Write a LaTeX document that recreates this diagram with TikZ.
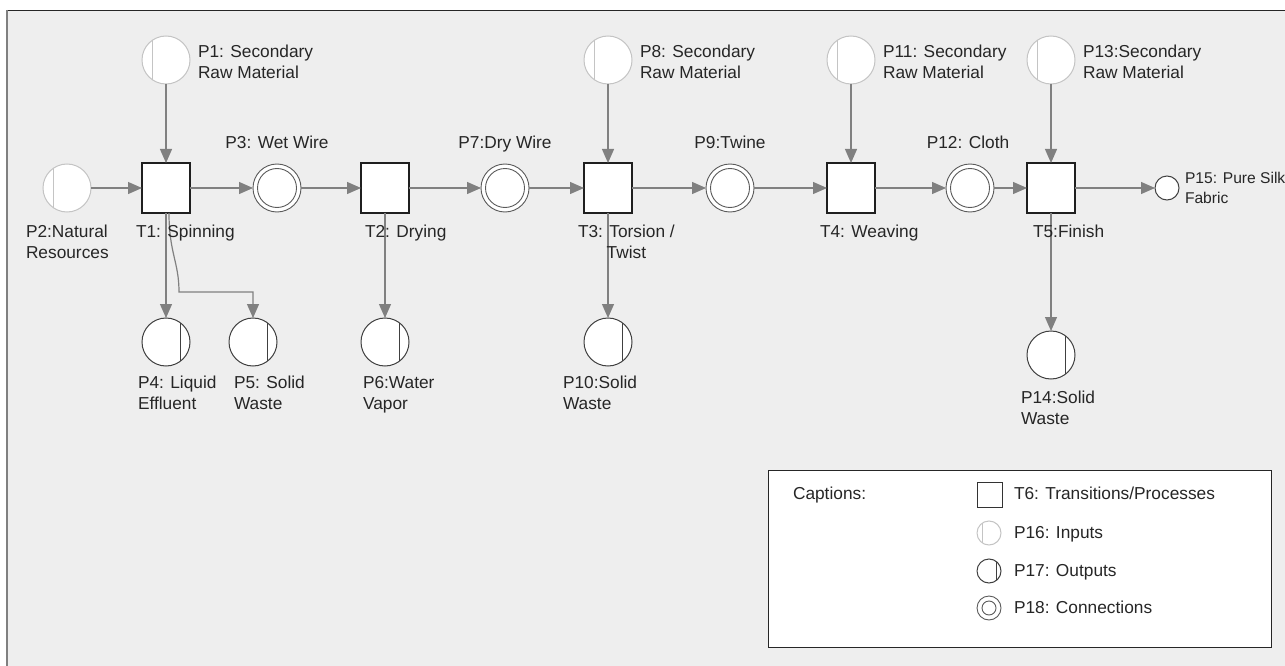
\documentclass[tikz,border=0pt]{standalone}
\usepackage{fontspec}
\setmainfont{Liberation Sans}
\usetikzlibrary{arrows.meta,calc}
\definecolor{bgc}{HTML}{EEEEEE}
\definecolor{arcc}{HTML}{808080}
\definecolor{inc}{HTML}{C4C4C4}
\definecolor{outc}{HTML}{404040}
\definecolor{conc}{HTML}{5A5A5A}
\definecolor{txtc}{HTML}{262626}
\begin{document}
\begin{tikzpicture}[x=1pt,y=-1pt,
  trans/.style={rectangle,draw=black!88,fill=white,line width=1.2pt,minimum width=48pt,minimum height=50pt,inner sep=0pt,outer sep=0pt},
  legtrans/.style={rectangle,draw=black!80,fill=white,line width=1pt,minimum size=25pt,inner sep=0pt,outer sep=0pt},
  inplace/.style={circle,draw=inc,fill=white,line width=1pt,minimum size={2*#1*1pt},inner sep=0pt,outer sep=0pt,
    path picture={\draw[inc,line width=1pt] ($(path picture bounding box.center)+(-0.58*#1,-#1)$) -- ++(0,2*#1);}},
  outplace/.style={circle,draw=outc,fill=white,line width=1pt,minimum size={2*#1*1pt},inner sep=0pt,outer sep=0pt,
    path picture={\draw[outc,line width=1.1pt] ($(path picture bounding box.center)+(0.62*#1,-#1)$) -- ++(0,2*#1);}},
  conplace/.style 2 args={circle,draw=conc,fill=white,line width=0.9pt,minimum size={2*#1*1pt},inner sep=0pt,outer sep=0pt,
    path picture={\draw[conc,line width=0.9pt] (path picture bounding box.center) circle[radius=#2*1pt];}},
  endplace/.style={circle,draw=outc,fill=white,line width=1pt,minimum size=24pt,inner sep=0pt,outer sep=0pt},
  arc/.style={draw=arcc,line width=1.2pt,-{Triangle[length=14pt,width=12pt]}},
  lbl/.style={text=txtc,font=\fontsize{17.3}{21}\selectfont,inner sep=0pt,outer sep=0pt,align=left},
  lblc/.style={text=txtc,font=\fontsize{17.3}{21}\selectfont,inner sep=0pt,outer sep=0pt,align=center}
]
\useasboundingbox (0,0) rectangle (1285,666);
\fill[white] (0,0) rectangle (1285,666);
\fill[bgc] (6,10) rectangle (1285,666);
\draw[black!85,line width=1.3pt] (6,10.6) -- (1285,10.6);
\draw[gray,line width=1.6pt] (6.8,10) -- (6.8,666);

% transitions
\node[trans] (T1) at (166,188) {};
\node[trans] (T2) at (385,188) {};
\node[trans] (T3) at (608,188) {};
\node[trans] (T4) at (851,188) {};
\node[trans] (T5) at (1051,188) {};

% input places
\node[inplace=24] (P1) at (166,60) {};
\node[inplace=24] (P2) at (67,188) {};
\node[inplace=24] (P8) at (608,60) {};
\node[inplace=24] (P11) at (851,60) {};
\node[inplace=24] (P13) at (1051,60) {};

% connection places
\node[conplace={24}{19.5}] (P3) at (277,188) {};
\node[conplace={24}{19.5}] (P7) at (505,188) {};
\node[conplace={24}{19.5}] (P9) at (730,188) {};
\node[conplace={24}{19.5}] (P12) at (970,188) {};
\node[endplace] (P15) at (1167,188) {};

% output places
\node[outplace=24] (P4) at (166,342) {};
\node[outplace=24] (P5) at (253,342) {};
\node[outplace=24] (P6) at (385,342) {};
\node[outplace=24] (P10) at (608,342) {};
\node[outplace=24] (P14) at (1051,355) {};

% arcs
\draw[arc] (P1) -- (T1);
\draw[arc] (P2) -- (T1);
\draw[arc] (T1) -- (P3);
\draw[arc] (P3) -- (T2);
\draw[arc] (T2) -- (P7);
\draw[arc] (P7) -- (T3);
\draw[arc] (T3) -- (P9);
\draw[arc] (P9) -- (T4);
\draw[arc] (T4) -- (P12);
\draw[arc] (P12) -- (T5);
\draw[arc] (T5) -- (P15);
\draw[arc] (P8) -- (T3);
\draw[arc] (P11) -- (T4);
\draw[arc] (P13) -- (T5);
\draw[arc] (T1) -- (P4);
\coordinate (b5) at (179,292);
\draw[arc] ([xshift=3pt]T1.south) .. controls +(0,40) and +(0,-30) .. (b5) -| (P5.north);
\draw[arc] (T2) -- (P6);
\draw[arc] (T3) -- (P10);
\draw[arc] (T5) -- (P14);

% labels
\node[lbl,anchor=west] (l1) at (198,62) {P1: Secondary\\Raw Material};
\node[lbl,anchor=west] (l8) at (640,62) {P8: Secondary\\Raw Material};
\node[lbl,anchor=west] (l11) at (883,62) {P11: Secondary\\Raw Material};
\node[lbl,anchor=west] (l13) at (1083,62) {P13:Secondary\\Raw Material};
\node[lbl,anchor=west,font=\fontsize{15.6}{20}\selectfont] (l15) at (1185,188) {P15: Pure Silk\\Fabric};
\node[lblc,anchor=base] (l3) at (277,149) {P3: Wet Wire};
\node[lblc,anchor=base] (l7) at (505,149) {P7:Dry Wire};
\node[lblc,anchor=base] (l9) at (730,149) {P9:Twine};
\node[lblc,anchor=base] (l12) at (968,149) {P12: Cloth};
\node[lbl,anchor=base west] (l2) at (26,258) {P2:Natural\\Resources};
\node[lbl,anchor=base west] (lt1) at (136,237) {T1: Spinning};
\node[lbl,anchor=base west] (lt2) at (365,237) {T2: Drying};
\node[lblc,anchor=base west] (lt3) at (578,258) {T3: Torsion /\\Twist};
\node[lbl,anchor=base west] (lt4) at (820,237) {T4: Weaving};
\node[lbl,anchor=base west] (lt5) at (1033,237) {T5:Finish};
\node[lbl,anchor=base west] (l4) at (138,409) {P4: Liquid\\Effluent};
\node[lbl,anchor=base west] (l5) at (234,409) {P5: Solid\\Waste};
\node[lbl,anchor=base west] (l6) at (363,409) {P6:Water\\Vapor};
\node[lbl,anchor=base west] (l10) at (563,409) {P10:Solid\\Waste};
\node[lbl,anchor=base west] (l14) at (1021,424) {P14:Solid\\Waste};

% legend
\node[draw=black!85,fill=white,line width=1.2pt,minimum width=503pt,minimum height=177pt,inner sep=0pt,anchor=north west] (leg) at (768,469.5) {};
\node[lbl,anchor=base west] (cap) at (793,499) {Captions:};
\node[legtrans] (T6) at (989.5,494.5) {};
\node[inplace=12] (P16) at (989,533) {};
\node[outplace=12] (P17) at (989,571) {};
\node[conplace={12}{7}] (P18) at (989,608) {};
\node[lbl,anchor=base west] (lt6) at (1014,499) {T6: Transitions/Processes};
\node[lbl,anchor=base west] (l16) at (1014,538) {P16: Inputs};
\node[lbl,anchor=base west] (l17) at (1014,576) {P17: Outputs};
\node[lbl,anchor=base west] (l18) at (1014,613) {P18: Connections};
\end{tikzpicture}
\end{document}
